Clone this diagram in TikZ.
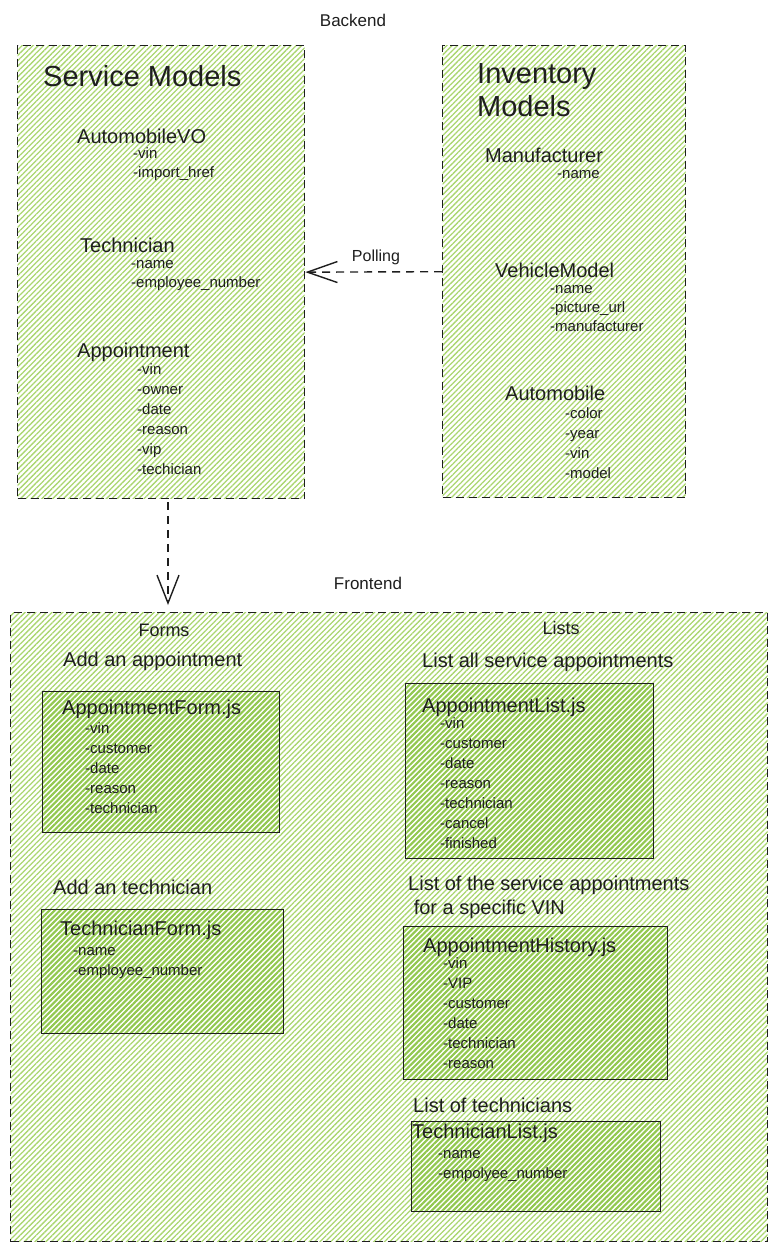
\documentclass[tikz,border=0pt]{standalone}
\usepackage{fontspec}
\setmainfont{Liberation Sans}
\usetikzlibrary{patterns.meta,arrows.meta}

\definecolor{ink}{RGB}{30,30,30}
\definecolor{hatch}{RGB}{170,214,112}
\definecolor{hatchdeep}{RGB}{146,200,80}

\tikzset{
  group/.style={draw=ink, line width=1.4pt, dash pattern=on 8pt off 5pt,
    pattern={Lines[angle=45,distance=3.8pt,line width=1.3pt]}, pattern color=hatch,
    anchor=north west, inner sep=0pt},
  filebox/.style={draw=ink, line width=0.9pt,
    pattern={Lines[angle=45,distance=3.8pt,line width=2.1pt]}, pattern color=hatchdeep,
    anchor=north west, inner sep=0pt},
  conn/.style={draw=ink, line width=1.4pt, dash pattern=on 8pt off 6pt},
  txt/.style={anchor=west, inner sep=0pt, text=ink, text depth=0pt},
  bigtitle/.style={txt, text height=21pt, font=\fontsize{29}{33}\selectfont},
  entity/.style={txt, text height=14.5pt, font=\fontsize{20}{24}\selectfont},
  attr/.style={txt, text height=11pt, font=\fontsize{15}{18}\selectfont},
  caption/.style={inner sep=0pt, text=ink, font=\fontsize{17}{20}\selectfont},
}

\begin{document}
\begin{tikzpicture}[x=1pt,y=-1pt]
\useasboundingbox (0,0) rectangle (776,1250);

% ---------- backend ----------
\node[caption] (backend) at (353,20) {Backend};

\node[group, minimum width=287pt, minimum height=453pt] (svc) at (17,45) {};
\node[group, minimum width=243pt, minimum height=452pt] (inv) at (442,45) {};

% service models
\node[bigtitle] (svctitle) at (43,76) {Service Models};
\node[entity] (avo) at (77,136) {AutomobileVO};
\node[attr] (avo1) at (133,153) {-vin};
\node[attr] (avo2) at (133,172) {-import\_href};
\node[entity] (tech) at (80,245) {Technician};
\node[attr] (tech1) at (131,263) {-name};
\node[attr] (tech2) at (131,282) {-employee\_number};
\node[entity] (appt) at (77,350) {Appointment};
\foreach \t [count=\i] in {-vin,-owner,-date,-reason,-vip,-techician}
  \node[attr] (appt\i) at (137,349+20*\i) {\t};

% inventory models
\node[bigtitle, anchor=north west, align=left, text height=, text depth=] (invtitle) at (477,63) {Inventory\\Models};
\node[entity] (manu) at (485,155) {Manufacturer};
\node[attr] (manu1) at (557,173) {-name};
\node[entity] (vm) at (495,270) {VehicleModel};
\node[attr] (vm1) at (550,288) {-name};
\node[attr] (vm2) at (550,307) {-picture\_url};
\node[attr] (vm3) at (550,326) {-manufacturer};
\node[entity] (auto) at (505,393) {Automobile};
\foreach \t [count=\i] in {-color,-year,-vin,-model}
  \node[attr] (auto\i) at (565,393+20*\i) {\t};

% polling connector
\node[caption, font=\fontsize{16}{19}\selectfont] (poll) at (376,257) {Polling};
\draw[conn, -{Straight Barb[length=30pt,width=21pt,line width=1.4pt]}] (inv.west) -- (svc.east);

% ---------- frontend ----------
\node[caption] (frontend) at (368,583) {Frontend};
\node[group, minimum width=757pt, minimum height=629pt] (front) at (10,612) {};

\coordinate (dn) at (168,0);
\draw[conn, shorten <=3pt, shorten >=7pt, -{Straight Barb[length=28pt,width=22pt,line width=1.4pt]}]
  (svc.south -| dn) -- (front.north -| dn);

% forms column
\node[caption, font=\fontsize{18}{21}\selectfont] (forms) at (164,630) {Forms};
\node[entity] (addappt) at (63,659) {Add an appointment};
\node[filebox, minimum width=237pt, minimum height=141pt] (afbox) at (41,690) {};
\node[entity] (af) at (62,707) {AppointmentForm.js};
\foreach \t [count=\i] in {-vin,-customer,-date,-reason,-technician}
  \node[attr] (af\i) at (85,708+20*\i) {\t};

\node[entity] (addtech) at (53,887) {Add an technician};
\node[filebox, minimum width=242pt, minimum height=124pt] (tfbox) at (41,909) {};
\node[entity] (tf) at (60,928) {TechnicianForm.js};
\node[attr] (tf1) at (73,950) {-name};
\node[attr] (tf2) at (73,970) {-employee\_number};

% lists column
\node[caption, font=\fontsize{18}{21}\selectfont] (lists) at (561,628) {Lists};
\node[entity] (listall) at (422,660) {List all service appointments};
\node[filebox, minimum width=248pt, minimum height=175pt] (albox) at (405,683) {};
\node[entity] (al) at (422,705) {AppointmentList.js};
\foreach \t [count=\i] in {-vin,-customer,-date,-reason,-technician,-cancel,-finished}
  \node[attr] (al\i) at (440,703+20*\i) {\t};

\node[entity, anchor=north west, align=left, text height=, text depth=] (listvin) at (408,876)
  {List of the service appointments\\~for a specific VIN};
\node[filebox, minimum width=264pt, minimum height=153pt] (ahbox) at (403,926) {};
\node[entity] (ah) at (423,945) {AppointmentHistory.js};
\foreach \t [count=\i] in {-vin,-VIP,-customer,-date,-technician,-reason}
  \node[attr] (ah\i) at (443,943+20*\i) {\t};

\node[entity] (listtech) at (413,1105) {List of technicians};
\node[filebox, minimum width=249pt, minimum height=90pt] (tlbox) at (411,1121) {};
\node[entity] (tl) at (412,1131) {TechnicianList.js};
\node[attr] (tl1) at (438,1153) {-name};
\node[attr] (tl2) at (438,1173) {-empolyee\_number};

\end{tikzpicture}
\end{document}
